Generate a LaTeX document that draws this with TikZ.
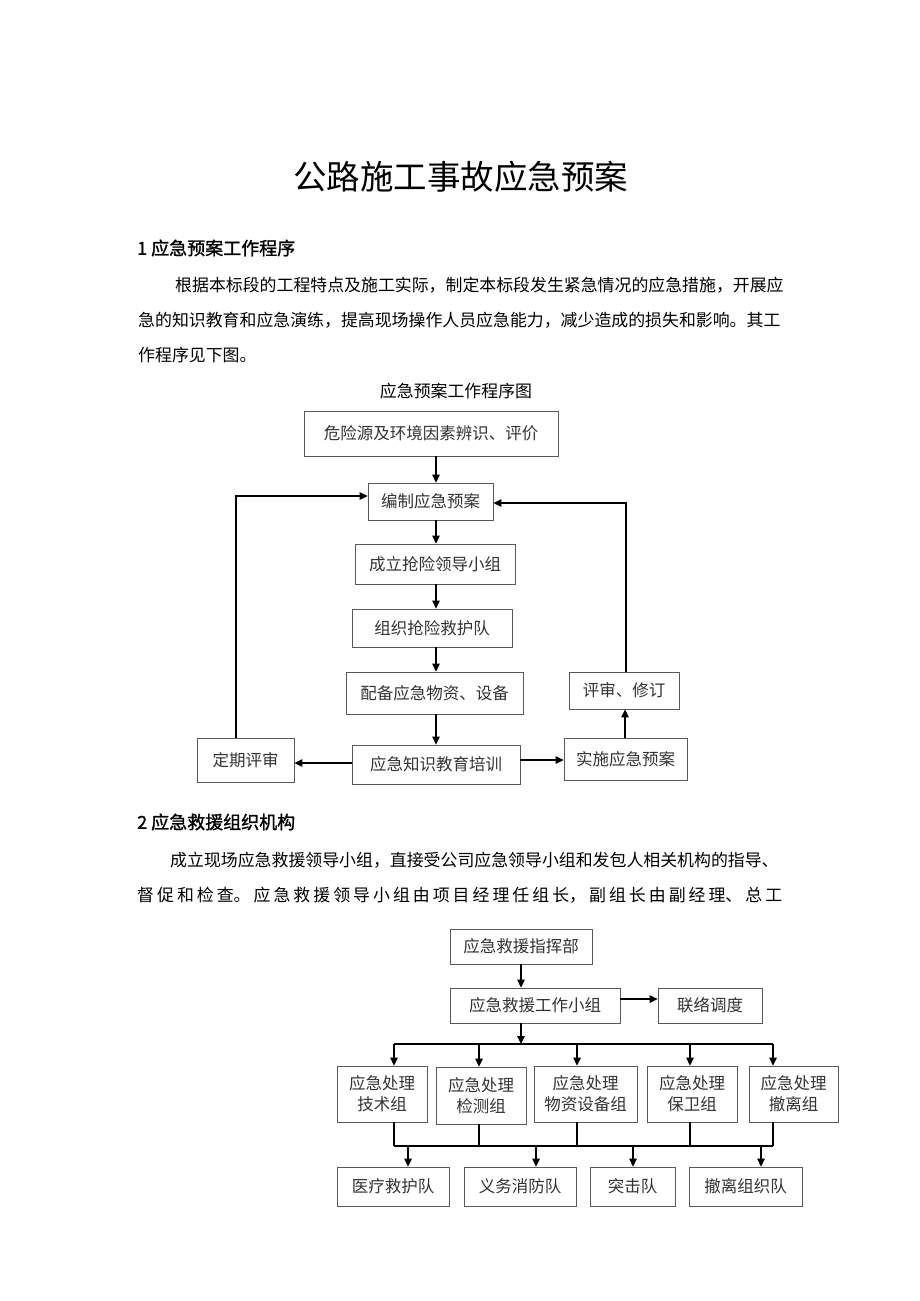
\documentclass[tikz,border=0pt]{standalone}
\usepackage{fontspec}
\setmainfont{Noto Sans CJK SC}
\newfontfamily\cjkhead{Noto Sans CJK SC}[FakeBold=1.2]
\usetikzlibrary{arrows.meta}
\XeTeXlinebreaklocale "zh"
\XeTeXlinebreakskip=0pt plus 3pt
\newcommand\jline[2]{\makebox[#1][s]{#2}}
\begin{document}
\begin{tikzpicture}[x=1pt,y=-1pt,
  box/.style={draw=black!65, line width=0.8pt, inner sep=0pt, text=black!80,
    font=\fontsize{16.5}{21}\selectfont, align=center},
  arr/.style={line width=1.3pt, -{Triangle[length=8pt,width=7.5pt]}},
  ln/.style={line width=1.3pt},
  ptext/.style={anchor=west, inner sep=0pt, font=\fontsize{16.9}{20}\selectfont},
  head/.style={anchor=west, inner sep=0pt, font=\cjkhead\fontsize{18}{20}\selectfont}]
\fill[white] (0,0) rectangle (920,1301);
\useasboundingbox (0,0) rectangle (920,1301);

% texts
\node[inner sep=0pt, font=\fontsize{33.5}{36}\selectfont] (title) at (460.5,177) {公路施工事故应急预案};
\node[head] (h1) at (137,248) {1 应急预案工作程序};
\node[ptext] (p1a) at (175,285) {\jline{607pt}{根据本标段的工程特点及施工实际，制定本标段发生紧急情况的应急措施，开展应}};
\node[ptext] (p1b) at (138,320) {\jline{644pt}{急的知识教育和应急演练，提高现场操作人员应急能力，减少造成的损失和影响。其工}};
\node[ptext] (p1c) at (138,355) {作程序见下图。};
\node[inner sep=0pt, font=\fontsize{16.9}{20}\selectfont] (cap) at (456,391) {应急预案工作程序图};

\node[head] (h2) at (137,822) {2 应急救援组织机构};
\node[ptext] (p2a) at (170,860) {\jline{602pt}{成立现场应急救援领导小组，直接受公司应急领导小组和发包人相关机构的指导、}};
\node[ptext] (p2b) at (137,895) {\jline{645pt}{督\hfil 促\hfil 和\hfil 检\hfil 查。\hfil 应\hfil 急\hfil 救\hfil 援\hfil 领\hfil 导\hfil 小\hfil 组\hfil 由\hfil 项\hfil 目\hfil 经\hfil 理\hfil 任\hfil 组\hfil 长，\hfil 副\hfil 组\hfil 长\hfil 由\hfil 副\hfil 经\hfil 理、\hfil 总\hfil 工}};

% chart 1
\node[box, minimum width=254pt, minimum height=45pt] (haz) at (431,433.5) {危险源及环境因素辨识、评价};
\node[box, minimum width=125pt, minimum height=37pt] (bz) at (430.5,501.5) {编制应急预案};
\node[box, minimum width=160pt, minimum height=40pt] (cl) at (435,564) {成立抢险领导小组};
\node[box, minimum width=160pt, minimum height=38pt] (zz) at (432,628) {组织抢险救护队};
\node[box, minimum width=177pt, minimum height=42pt] (pb) at (434.5,693) {配备应急物资、设备};
\node[box, minimum width=168pt, minimum height=39pt] (zs) at (436,764.5) {应急知识教育培训};
\node[box, minimum width=97pt, minimum height=44pt] (dq) at (245.5,760) {定期评审};
\node[box, minimum width=110pt, minimum height=37pt] (ps) at (624,690.5) {评审、修订};
\node[box, minimum width=123pt, minimum height=42pt] (ss) at (625.5,759) {实施应急预案};

\coordinate (ax) at (436,0);
\draw[arr] (haz.south -| ax) -- (bz.north -| ax);
\draw[arr] (bz.south -| ax) -- (cl.north -| ax);
\draw[arr] (cl.south -| ax) -- (zz.north -| ax);
\draw[arr] (zz.south -| ax) -- (pb.north -| ax);
\draw[arr] (pb.south -| ax) -- (zs.north -| ax);
\coordinate (ly) at (0,763);
\draw[arr] (zs.west |- ly) -- (dq.east |- ly);
\coordinate (ry) at (0,760);
\draw[arr] (zs.east |- ry) -- (ss.west |- ry);
\coordinate (ux) at (625,0);
\draw[arr] (ss.north -| ux) -- (ps.south -| ux);
\coordinate (lc) at (236,496);
\coordinate (rc) at (626,503);
\draw[arr] (dq.north -| lc) -- (lc) -- (bz.west |- lc);
\draw[arr] (ps.north -| rc) -- (rc) -- (bz.east |- rc);

% chart 2
\node[box, minimum width=142pt, minimum height=35pt] (zh) at (521,946.5) {应急救援指挥部};
\node[box, minimum width=170pt, minimum height=35pt] (gz) at (535,1005.5) {应急救援工作小组};
\node[box, minimum width=104pt, minimum height=35pt] (ll) at (710,1005.5) {联络调度};
\node[box, minimum width=90pt, minimum height=56pt] (g1) at (382,1094) {应急处理\\技术组};
\node[box, minimum width=90pt, minimum height=57pt] (g2) at (481,1095.5) {应急处理\\检测组};
\node[box, minimum width=103pt, minimum height=56pt] (g3) at (585.5,1094) {应急处理\\物资设备组};
\node[box, minimum width=90pt, minimum height=56pt] (g4) at (692,1094) {应急处理\\保卫组};
\node[box, minimum width=89pt, minimum height=56pt] (g5) at (793.5,1094) {应急处理\\撤离组};
\node[box, minimum width=112pt, minimum height=39pt] (t1) at (393,1186.5) {医疗救护队};
\node[box, minimum width=112pt, minimum height=39pt] (t2) at (520,1186.5) {义务消防队};
\node[box, minimum width=85pt, minimum height=39pt] (t3) at (632.5,1186.5) {突击队};
\node[box, minimum width=113pt, minimum height=39pt] (t4) at (745.5,1186.5) {撤离组织队};

\coordinate (cx) at (521,0);
\draw[arr] (zh.south -| cx) -- (gz.north -| cx);
\coordinate (gy) at (0,999);
\draw[arr] (gz.east |- gy) -- (ll.west |- gy);
\coordinate (b1) at (521,1044);
\draw[arr] (gz.south -| b1) -- (b1);
\coordinate (bl) at (394,1044);
\coordinate (br) at (773,1044);
\draw[ln] (bl) -- (br);
\draw[arr] (bl) -- (g1.north -| bl);
\draw[arr] (479,1044) coordinate (b2) -- (g2.north -| b2);
\draw[arr] (577,1044) coordinate (b3) -- (g3.north -| b3);
\draw[arr] (690,1044) coordinate (b4) -- (g4.north -| b4);
\draw[arr] (br) -- (g5.north -| br);

\coordinate (cl2) at (394,1146);
\coordinate (cr2) at (773,1146);
\draw[ln] (cl2) -- (cr2);
\draw[ln] (g1.south -| cl2) -- (cl2);
\draw[ln] (g2.south -| b2) -- (b2 |- cl2);
\draw[ln] (g3.south -| b3) -- (b3 |- cl2);
\draw[ln] (g4.south -| b4) -- (b4 |- cl2);
\draw[ln] (g5.south -| cr2) -- (cr2);
\draw[arr] (408,1146) coordinate (d1) -- (t1.north -| d1);
\draw[arr] (536,1146) coordinate (d2) -- (t2.north -| d2);
\draw[arr] (633,1146) coordinate (d3) -- (t3.north -| d3);
\draw[arr] (761,1146) coordinate (d4) -- (t4.north -| d4);
\end{tikzpicture}
\end{document}
